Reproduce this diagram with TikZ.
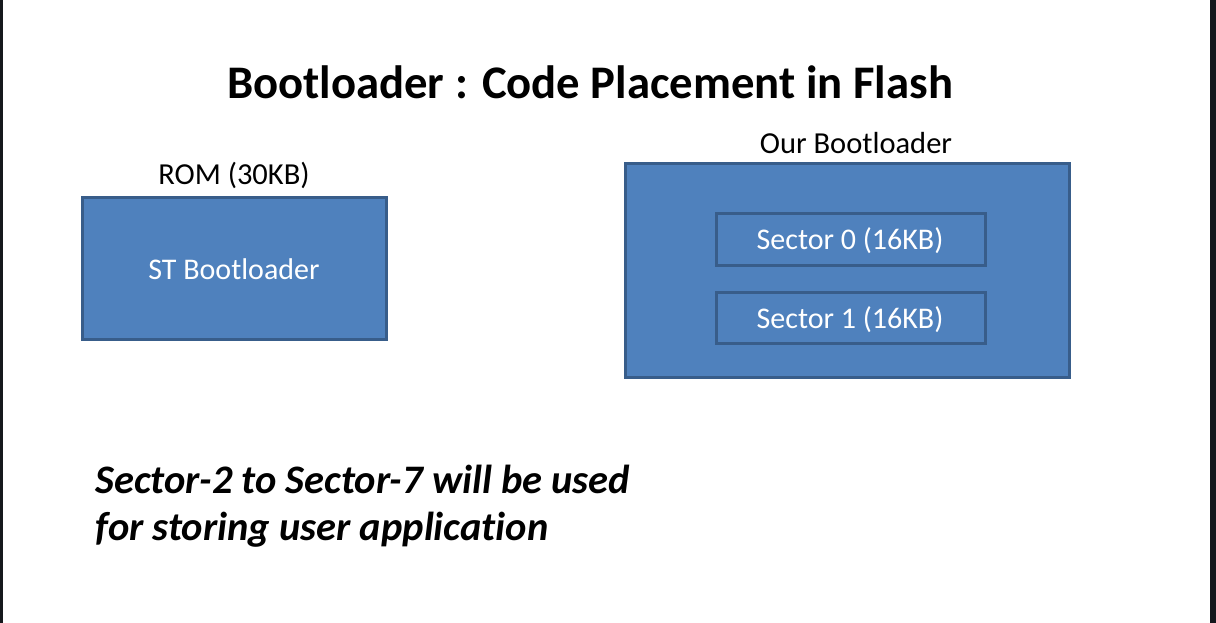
\documentclass[tikz,border=0pt]{standalone}
\usepackage{fontspec}
\setmainfont{Carlito}[Ligatures={NoCommon}]
\definecolor{boxfill}{HTML}{4F81BD}
\definecolor{boxline}{HTML}{385D8A}
\definecolor{edge}{HTML}{15181D}
\begin{document}
\begin{tikzpicture}[x=1pt,y=-1pt,
  blockbox/.style={draw=boxline,fill=boxfill,line width=3pt,inner sep=0pt},
  whitetext/.style={text=white,font=\fontsize{30}{34}\selectfont},
  labeltext/.style={font=\fontsize{30.5}{34}\selectfont}]
\useasboundingbox (0,0) rectangle (1216,623);
\fill[white] (0,0) rectangle (1216,623);
\fill[edge] (0,0) rectangle (3,623);
\fill[edge] (1210,0) rectangle (1216,623);
\node[font=\bfseries\fontsize{46.7}{52}\selectfont] (title) at (590,82) {Bootloader : Code Placement in Flash};
\node[labeltext] (romlbl) at (234,175) {ROM (30KB)};
\draw[blockbox] (82,197) rectangle (386,339);
\node[whitetext] (st) at (234,269) {ST Bootloader};
\node[labeltext] (ourlbl) at (856,143) {Our Bootloader};
\draw[blockbox] (625,164) rectangle (1069,377);
\draw[blockbox] (716,213) rectangle (985,265);
\node[whitetext] (s0) at (850,240.5) {Sector 0 (16KB)};
\draw[blockbox] (716,292) rectangle (985,343);
\node[whitetext] (s1) at (850,320) {Sector 1 (16KB)};
\node[font=\bfseries\itshape\fontsize{40.5}{47}\selectfont,anchor=west,align=left] (note) at (92,506.5) {Sector-2 to Sector-7 will be used\\for storing user application};
\end{tikzpicture}
\end{document}
